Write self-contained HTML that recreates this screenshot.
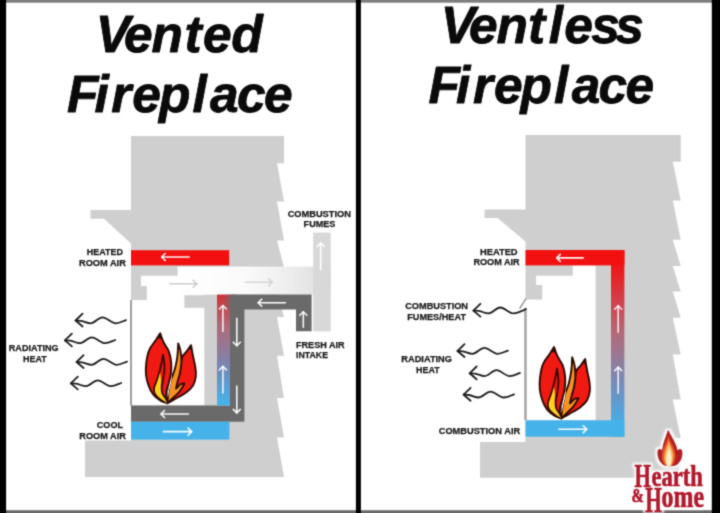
<!DOCTYPE html>
<html lang="en"><head><meta charset="utf-8"><title>Vented vs Ventless Fireplace</title>
<style>
html,body{margin:0;padding:0;background:#fff;}
body{width:720px;height:513px;overflow:hidden;}
svg{display:block;font-family:"Liberation Sans",Arial,sans-serif;font-weight:bold;}
.t{font-style:italic;fill:#0a0a0a;stroke:#0a0a0a;stroke-width:0.8px;stroke-linejoin:round;}
.l{fill:#1a1a1a;stroke:#1a1a1a;stroke-width:0.25px;}
.logo{font-family:"Liberation Serif","DejaVu Serif",serif;font-weight:bold;fill:#b2182c;}
</style></head><body>
<svg width="720" height="513" viewBox="0 0 720 513">
<defs>
<linearGradient id="rb" x1="0" y1="0" x2="0" y2="1">
<stop offset="0" stop-color="#cf3039"/><stop offset="0.1" stop-color="#c4464f"/><stop offset="0.28" stop-color="#ad6a7a"/><stop offset="0.5" stop-color="#917a9a"/><stop offset="0.68" stop-color="#7289b6"/><stop offset="0.85" stop-color="#57a2d8"/><stop offset="1" stop-color="#45b3ea"/>
</linearGradient>
<linearGradient id="rb2" x1="0" y1="0" x2="0" y2="1">
<stop offset="0" stop-color="#f21010"/><stop offset="0.09" stop-color="#ee1818"/><stop offset="0.27" stop-color="#d2404a"/><stop offset="0.45" stop-color="#b26a7a"/><stop offset="0.6" stop-color="#917c9c"/><stop offset="0.74" stop-color="#7090c0"/><stop offset="0.88" stop-color="#52a6de"/><stop offset="1" stop-color="#45b3ea"/>
</linearGradient>
<linearGradient id="ex" x1="0" y1="0" x2="1" y2="0">
<stop offset="0" stop-color="#ffffff"/><stop offset="0.45" stop-color="#fafafa"/><stop offset="0.75" stop-color="#ececec"/><stop offset="1" stop-color="#dadada"/>
</linearGradient>
<linearGradient id="rd" x1="0" y1="0" x2="1" y2="0">
<stop offset="0" stop-color="#6a6a6a" stop-opacity="0"/><stop offset="1" stop-color="#6a6a6a" stop-opacity="1"/>
</linearGradient>
<filter id="soft" filterUnits="userSpaceOnUse" x="0" y="0" width="720" height="513" color-interpolation-filters="sRGB"><feConvolveMatrix order="3" kernelMatrix="1 4 1 4 16 4 1 4 1" divisor="36" edgeMode="duplicate" preserveAlpha="true"/></filter>
<filter id="halo" filterUnits="userSpaceOnUse" x="620" y="420" width="100" height="93" color-interpolation-filters="sRGB"><feMorphology in="SourceAlpha" operator="dilate" radius="2.2" result="d"/><feGaussianBlur in="d" stdDeviation="0.9" result="b"/><feFlood flood-color="#fff" result="w"/><feComposite in="w" in2="b" operator="in" result="h"/><feMerge><feMergeNode in="h"/><feMergeNode in="SourceGraphic"/></feMerge></filter>
</defs>
<rect width="720" height="513" fill="#fff"/>
<g filter="url(#soft)">
<rect x="-10" y="-10" width="740" height="533" fill="#fff"/>

<path fill="#cfcfcf" d="M131,136 L284,136 L284,163.3 L277,163.3 L284,201.5 L277,201.5 L284,240.5 L277,240.5 L284,267 L277,267 L284,292.4 L277,292.4 L284,317 L277,317 L284,355.8 L277,355.8 L284,398 L277,398 L284,437.4 L277,437.4 L284,477 L85,477 L85,440.4 L131,440.4 L131,243.5 L104,218.8 L90.5,218.8 L90.5,210 L131,210 Z"/>
<path fill="#fff" d="M141,275.8 L204.6,275.8 L204.6,405.5 L131.8,405.5 L131.8,300 L146.8,300 L146.8,286 L141,286 Z"/>
<rect x="177.6" y="266.6" width="153" height="28" fill="url(#ex)"/>
<rect x="313.2" y="232.6" width="17.5" height="98.8" fill="#d8d8d8"/>
<rect x="184.4" y="295.2" width="32.6" height="12.6" fill="#cfcfcf"/>
<rect x="204.6" y="295.2" width="12.4" height="110.3" fill="#cfcfcf"/>
<rect x="130.2" y="300" width="1.6" height="105.5" fill="#8c8c8c"/>
<rect x="131" y="250.2" width="98.2" height="15.2" fill="#f21010"/>
<path fill="#6a6a6a" d="M230,294.6 L311.6,294.6 L311.6,331.3 L296,331.3 L296,309.6 L244.4,309.6 L244.4,421.8 L131,421.8 L131,405.5 L230,405.5 Z"/>
<rect x="217" y="294.6" width="13" height="111" fill="url(#rb)"/>
<rect x="222" y="294.6" width="14" height="15" fill="url(#rd)"/>
<rect x="131" y="421.8" width="98.4" height="17.8" fill="#45b3ea"/>
<g fill="none" stroke="#fff" stroke-opacity="0.95" stroke-width="1.6" stroke-linecap="round" stroke-linejoin="round"><path d="M189.2,257.0 L161.7,257.0"/><path d="M165.2,253.5 L161.7,257.0 L165.2,260.5"/></g>
<g fill="none" stroke="#c8c8c8" stroke-opacity="0.9" stroke-width="1.6" stroke-linecap="round" stroke-linejoin="round"><path d="M170.0,283.7 L196.7,283.7"/><path d="M193.2,287.2 L196.7,283.7 L193.2,280.2"/></g>
<g fill="none" stroke="#d2d2d2" stroke-opacity="0.9" stroke-width="1.6" stroke-linecap="round" stroke-linejoin="round"><path d="M245.5,282.2 L272.2,282.2"/><path d="M268.7,285.7 L272.2,282.2 L268.7,278.7"/></g>
<g fill="none" stroke="#fff" stroke-opacity="1.0" stroke-width="1.6" stroke-linecap="round" stroke-linejoin="round"><path d="M320.7,270.0 L320.7,243.0"/><path d="M324.2,246.5 L320.7,243.0 L317.2,246.5"/></g>
<g fill="none" stroke="#fff" stroke-opacity="1.0" stroke-width="1.6" stroke-linecap="round" stroke-linejoin="round"><path d="M285.5,302.7 L258.2,302.7"/><path d="M261.7,299.2 L258.2,302.7 L261.7,306.2"/></g>
<g fill="none" stroke="#fff" stroke-opacity="0.95" stroke-width="1.6" stroke-linecap="round" stroke-linejoin="round"><path d="M303.3,327.3 L303.3,311.8"/><path d="M306.8,315.3 L303.3,311.8 L299.8,315.3"/></g>
<g fill="none" stroke="#fff" stroke-opacity="0.9" stroke-width="1.6" stroke-linecap="round" stroke-linejoin="round"><path d="M222.9,331.4 L222.9,305.5"/><path d="M226.4,309.0 L222.9,305.5 L219.4,309.0"/></g>
<g fill="none" stroke="#fff" stroke-opacity="0.9" stroke-width="1.6" stroke-linecap="round" stroke-linejoin="round"><path d="M222.9,393.0 L222.9,366.4"/><path d="M226.4,369.9 L222.9,366.4 L219.4,369.9"/></g>
<g fill="none" stroke="#fff" stroke-opacity="0.95" stroke-width="1.6" stroke-linecap="round" stroke-linejoin="round"><path d="M236.8,318.3 L236.8,345.7"/><path d="M233.3,342.2 L236.8,345.7 L240.3,342.2"/></g>
<g fill="none" stroke="#fff" stroke-opacity="0.95" stroke-width="1.6" stroke-linecap="round" stroke-linejoin="round"><path d="M236.8,386.0 L236.8,412.9"/><path d="M233.3,409.4 L236.8,412.9 L240.3,409.4"/></g>
<g fill="none" stroke="#fff" stroke-opacity="0.95" stroke-width="1.6" stroke-linecap="round" stroke-linejoin="round"><path d="M188.4,414.0 L161.0,414.0"/><path d="M164.5,410.5 L161.0,414.0 L164.5,417.5"/></g>
<g fill="none" stroke="#fff" stroke-opacity="0.95" stroke-width="1.6" stroke-linecap="round" stroke-linejoin="round"><path d="M163.3,431.6 L191.6,431.6"/><path d="M188.1,435.1 L191.6,431.6 L188.1,428.1"/></g>
<g transform="translate(145.5,333) scale(1,1)" stroke="#2e0a04" stroke-width="1.9" stroke-linejoin="round" stroke-linecap="round">
<path fill="#f01a12" d="M45.6,12.1 C44.9,13.1 42.7,16.3 41.2,18.4 C39.7,20.5 37.7,21.0 36.5,24.6 C35.3,28.2 35.4,34.9 34.0,40.0 C32.6,45.1 30.0,50.0 28.0,55.0 C26.0,60.0 22.8,67.7 21.8,70.2 C22.4,69.9 23.8,69.3 25.7,68.2 C27.6,67.1 30.9,65.3 33.5,63.8 C36.1,62.3 38.9,60.9 41.2,59.0 C43.5,57.1 46.0,55.2 47.5,52.6 C49.0,50.0 49.9,46.4 50.3,43.3 C50.7,40.2 50.3,37.4 49.8,34.0 C49.3,30.6 48.2,26.6 47.5,23.0 C46.8,19.4 45.9,13.9 45.6,12.1 Z"/>
<path fill="#f01a12" d="M14.7,0.3 C13.9,1.5 11.9,4.8 10.1,7.5 C8.3,10.2 5.3,13.2 3.8,16.8 C2.2,20.4 1.4,25.1 0.8,29.3 C0.3,33.5 0.1,37.8 0.5,41.7 C0.9,45.6 1.9,49.3 3.1,52.6 C4.3,55.9 5.8,59.0 7.7,61.5 C9.6,64.0 12.3,66.0 14.7,67.4 C17.1,68.9 20.6,69.7 21.8,70.2 C21.6,69.1 20.5,65.7 20.4,63.5 C20.3,61.4 20.7,59.6 21.2,57.3 C21.7,55.0 22.8,52.4 23.5,49.5 C24.2,46.6 25.0,43.6 25.4,40.2 C25.8,36.8 26.0,32.9 25.7,29.3 C25.4,25.7 24.6,21.8 23.3,18.4 C22.0,15.0 19.3,12.0 17.9,9.0 C16.5,6.0 15.2,1.8 14.7,0.3 Z"/>
<path fill="#f7941e" d="M32.7,10.4 C32.6,12.5 32.4,18.8 31.9,23.0 C31.4,27.2 30.5,31.6 29.5,35.5 C28.5,39.4 26.7,42.8 25.7,46.4 C24.7,50.0 23.9,54.2 23.3,57.3 C22.7,60.4 22.6,62.9 22.3,65.0 C22.1,67.2 21.9,69.3 21.8,70.2 C22.8,69.3 25.5,67.0 27.5,65.0 C29.5,63.0 32.1,60.9 34.0,58.5 C35.9,56.1 38.2,51.8 39.0,50.5 C38.4,50.6 36.9,50.2 35.5,51.0 C34.1,51.8 31.3,54.8 30.5,55.5 C30.8,54.2 31.6,50.5 32.2,48.0 C32.9,45.5 33.8,43.3 34.4,40.2 C35.0,37.1 35.8,32.9 35.9,29.3 C36.0,25.7 35.6,21.5 35.1,18.4 C34.6,15.2 33.1,11.7 32.7,10.4 Z"/>
<path fill="#e81a12" stroke-width="1.7" d="M17.6,21.5 C17.2,23.8 15.9,30.9 14.9,35.0 C13.9,39.1 12.7,43.1 11.6,46.4 C10.5,49.7 9.0,52.6 8.6,55.0 C8.2,57.4 8.3,58.8 9.3,60.6 C10.3,62.4 12.6,64.4 14.7,66.0 C16.8,67.6 20.6,69.5 21.8,70.2 C21.4,69.4 20.4,67.1 19.6,65.5 C18.8,63.9 17.4,62.3 16.9,60.4 C16.3,58.5 16.1,56.8 16.3,54.2 C16.5,51.6 17.4,48.2 17.9,44.8 C18.4,41.4 19.2,37.9 19.1,34.0 C19.1,30.1 17.9,23.6 17.6,21.5 Z"/>
<path fill="#fbd31d" stroke="none" d="M14.6,39.5 C14.2,40.8 13.2,44.4 12.4,47.0 C11.6,49.6 10.0,52.8 9.6,55.0 C9.2,57.2 9.3,58.5 10.2,60.3 C11.1,62.1 13.1,63.9 15.0,65.6 C16.9,67.2 20.7,69.4 21.8,70.2 C21.3,69.4 20.0,66.9 19.0,65.3 C18.0,63.7 16.5,62.2 15.9,60.4 C15.3,58.5 15.2,56.4 15.2,54.2 C15.1,52.0 15.7,49.5 15.6,47.0 C15.5,44.5 14.8,40.8 14.6,39.5 Z"/>
<path fill="#fff" stroke="none" d="M26.3,42 C25,47 23.2,53 22.5,59 C22.2,61.5 22.2,63.5 22.5,65 C23,60 24.3,55 25.5,50 C26.2,46.5 26.5,44 26.3,42 Z"/>
<path fill="#2e0a04" stroke="none" d="M14.7,0.3 L12.2,5 L17,6.5 Z M32.7,10.4 L32.2,16 L34.6,16 Z M45.6,12.1 L43.2,16 L46.6,17 Z"/>
</g>
<g transform="translate(75,320.5)" fill="none" stroke="#1e1e1e" stroke-width="1.8" stroke-linecap="round" stroke-linejoin="round"><path d="M7.6,-6.8 L0.6,0 L7.6,6"/><path d="M0.6,0 L6,0.3 C10,1 12,2.8 15.4,2.8 C20,2.8 23,-3.1 27.5,-3.1 C32,-3.1 36,2.8 40.6,2.8 C45,2.8 48,0.5 51,-0.4"/></g>
<g transform="translate(64.3,340.4)" fill="none" stroke="#1e1e1e" stroke-width="1.8" stroke-linecap="round" stroke-linejoin="round"><path d="M7.6,-6.8 L0.6,0 L7.6,6"/><path d="M0.6,0 L6,0.3 C10,1 12,2.8 15.4,2.8 C20,2.8 23,-3.1 27.5,-3.1 C32,-3.1 36,2.8 40.6,2.8 C45,2.8 48,0.5 51,-0.4"/></g>
<g transform="translate(76,362)" fill="none" stroke="#1e1e1e" stroke-width="1.8" stroke-linecap="round" stroke-linejoin="round"><path d="M7.6,-6.8 L0.6,0 L7.6,6"/><path d="M0.6,0 L6,0.3 C10,1 12,2.8 15.4,2.8 C20,2.8 23,-3.1 27.5,-3.1 C32,-3.1 36,2.8 40.6,2.8 C45,2.8 48,0.5 51,-0.4"/></g>
<g transform="translate(70.2,383.4)" fill="none" stroke="#1e1e1e" stroke-width="1.8" stroke-linecap="round" stroke-linejoin="round"><path d="M7.6,-6.8 L0.6,0 L7.6,6"/><path d="M0.6,0 L6,0.3 C10,1 12,2.8 15.4,2.8 C20,2.8 23,-3.1 27.5,-3.1 C32,-3.1 36,2.8 40.6,2.8 C45,2.8 48,0.5 51,-0.4"/></g>
<g class="l">
<text x="86.7" y="255.3" font-size="9.4" text-anchor="start" textLength="36.2" lengthAdjust="spacingAndGlyphs">HEATED</text>
<text x="79" y="266" font-size="9.4" text-anchor="start" textLength="46.8" lengthAdjust="spacingAndGlyphs">ROOM AIR</text>
<text x="8.8" y="351.3" font-size="9.4" text-anchor="start" textLength="49.8" lengthAdjust="spacingAndGlyphs">RADIATING</text>
<text x="23" y="362.4" font-size="9.4" text-anchor="start" textLength="23.8" lengthAdjust="spacingAndGlyphs">HEAT</text>
<text x="96.8" y="427.6" font-size="9.4" text-anchor="start" textLength="26.2" lengthAdjust="spacingAndGlyphs">COOL</text>
<text x="79.3" y="438.5" font-size="9.4" text-anchor="start" textLength="46.6" lengthAdjust="spacingAndGlyphs">ROOM AIR</text>
<text x="287.7" y="216.8" font-size="9.4" text-anchor="start" textLength="63.2" lengthAdjust="spacingAndGlyphs">COMBUSTION</text>
<text x="303.6" y="227.1" font-size="9.4" text-anchor="start" textLength="31.7" lengthAdjust="spacingAndGlyphs">FUMES</text>
<text x="296" y="347.5" font-size="9.4" text-anchor="start" textLength="48.6" lengthAdjust="spacingAndGlyphs">FRESH AIR</text>
<text x="296" y="357.8" font-size="9.4" text-anchor="start" textLength="32" lengthAdjust="spacingAndGlyphs">INTAKE</text>
</g>
<path fill="#cfcfcf" d="M525.5,135 L680.7,135 L680.7,161.7 L672.8,161.7 L680.7,200.5 L672.8,200.5 L680.7,239.7 L672.8,239.7 L680.7,266 L672.8,266 L680.7,291.4 L672.8,291.4 L680.7,317.7 L672.8,317.7 L680.7,354.4 L672.8,354.4 L680.7,399.6 L672.8,399.6 L680.7,438 L672.8,438 L680.7,477.8 L480,477.8 L480,442 L525.5,442 L525.5,241.5 L497.5,218 L484.5,218 L484.5,209.5 L525.5,209.5 Z"/>
<path fill="#fff" d="M536,275.7 L572.7,275.7 L572.7,265.4 L595.6,265.4 L595.6,420.3 L526.6,420.3 L526.6,299.4 L542.2,299.4 L542.2,285 L536,285 Z"/>
<rect x="524.2" y="299.4" width="2.5" height="9" fill="#fff"/>
<rect x="524.2" y="308.3" width="2.4" height="112" fill="#a6a6a6"/>
<path d="M519.6,308.6 L526,298.6" stroke="#888" stroke-width="1.2" fill="none"/>
<rect x="611" y="250" width="13.4" height="187" fill="url(#rb2)"/>
<rect x="525.5" y="250" width="98.9" height="15.4" fill="#f21010"/>
<rect x="525.5" y="420.3" width="98.9" height="16.4" fill="#45b3ea"/>
<g fill="none" stroke="#fff" stroke-opacity="0.95" stroke-width="1.6" stroke-linecap="round" stroke-linejoin="round"><path d="M583.3,257.9 L556.7,257.9"/><path d="M560.2,254.4 L556.7,257.9 L560.2,261.4"/></g>
<g fill="none" stroke="#fff" stroke-opacity="0.85" stroke-width="1.6" stroke-linecap="round" stroke-linejoin="round"><path d="M618.2,332.3 L618.2,305.7"/><path d="M621.7,309.2 L618.2,305.7 L614.7,309.2"/></g>
<g fill="none" stroke="#fff" stroke-opacity="0.85" stroke-width="1.6" stroke-linecap="round" stroke-linejoin="round"><path d="M618.2,393.3 L618.2,367.1"/><path d="M621.7,370.6 L618.2,367.1 L614.7,370.6"/></g>
<g fill="none" stroke="#fff" stroke-opacity="0.95" stroke-width="1.6" stroke-linecap="round" stroke-linejoin="round"><path d="M558.9,429.3 L586.7,429.3"/><path d="M583.2,432.8 L586.7,429.3 L583.2,425.8"/></g>
<g transform="translate(539.3,346.7) scale(1.005,1.02)" stroke="#2e0a04" stroke-width="1.9" stroke-linejoin="round" stroke-linecap="round">
<path fill="#f01a12" d="M45.6,12.1 C44.9,13.1 42.7,16.3 41.2,18.4 C39.7,20.5 37.7,21.0 36.5,24.6 C35.3,28.2 35.4,34.9 34.0,40.0 C32.6,45.1 30.0,50.0 28.0,55.0 C26.0,60.0 22.8,67.7 21.8,70.2 C22.4,69.9 23.8,69.3 25.7,68.2 C27.6,67.1 30.9,65.3 33.5,63.8 C36.1,62.3 38.9,60.9 41.2,59.0 C43.5,57.1 46.0,55.2 47.5,52.6 C49.0,50.0 49.9,46.4 50.3,43.3 C50.7,40.2 50.3,37.4 49.8,34.0 C49.3,30.6 48.2,26.6 47.5,23.0 C46.8,19.4 45.9,13.9 45.6,12.1 Z"/>
<path fill="#f01a12" d="M14.7,0.3 C13.9,1.5 11.9,4.8 10.1,7.5 C8.3,10.2 5.3,13.2 3.8,16.8 C2.2,20.4 1.4,25.1 0.8,29.3 C0.3,33.5 0.1,37.8 0.5,41.7 C0.9,45.6 1.9,49.3 3.1,52.6 C4.3,55.9 5.8,59.0 7.7,61.5 C9.6,64.0 12.3,66.0 14.7,67.4 C17.1,68.9 20.6,69.7 21.8,70.2 C21.6,69.1 20.5,65.7 20.4,63.5 C20.3,61.4 20.7,59.6 21.2,57.3 C21.7,55.0 22.8,52.4 23.5,49.5 C24.2,46.6 25.0,43.6 25.4,40.2 C25.8,36.8 26.0,32.9 25.7,29.3 C25.4,25.7 24.6,21.8 23.3,18.4 C22.0,15.0 19.3,12.0 17.9,9.0 C16.5,6.0 15.2,1.8 14.7,0.3 Z"/>
<path fill="#f7941e" d="M32.7,10.4 C32.6,12.5 32.4,18.8 31.9,23.0 C31.4,27.2 30.5,31.6 29.5,35.5 C28.5,39.4 26.7,42.8 25.7,46.4 C24.7,50.0 23.9,54.2 23.3,57.3 C22.7,60.4 22.6,62.9 22.3,65.0 C22.1,67.2 21.9,69.3 21.8,70.2 C22.8,69.3 25.5,67.0 27.5,65.0 C29.5,63.0 32.1,60.9 34.0,58.5 C35.9,56.1 38.2,51.8 39.0,50.5 C38.4,50.6 36.9,50.2 35.5,51.0 C34.1,51.8 31.3,54.8 30.5,55.5 C30.8,54.2 31.6,50.5 32.2,48.0 C32.9,45.5 33.8,43.3 34.4,40.2 C35.0,37.1 35.8,32.9 35.9,29.3 C36.0,25.7 35.6,21.5 35.1,18.4 C34.6,15.2 33.1,11.7 32.7,10.4 Z"/>
<path fill="#e81a12" stroke-width="1.7" d="M17.6,21.5 C17.2,23.8 15.9,30.9 14.9,35.0 C13.9,39.1 12.7,43.1 11.6,46.4 C10.5,49.7 9.0,52.6 8.6,55.0 C8.2,57.4 8.3,58.8 9.3,60.6 C10.3,62.4 12.6,64.4 14.7,66.0 C16.8,67.6 20.6,69.5 21.8,70.2 C21.4,69.4 20.4,67.1 19.6,65.5 C18.8,63.9 17.4,62.3 16.9,60.4 C16.3,58.5 16.1,56.8 16.3,54.2 C16.5,51.6 17.4,48.2 17.9,44.8 C18.4,41.4 19.2,37.9 19.1,34.0 C19.1,30.1 17.9,23.6 17.6,21.5 Z"/>
<path fill="#fbd31d" stroke="none" d="M14.6,39.5 C14.2,40.8 13.2,44.4 12.4,47.0 C11.6,49.6 10.0,52.8 9.6,55.0 C9.2,57.2 9.3,58.5 10.2,60.3 C11.1,62.1 13.1,63.9 15.0,65.6 C16.9,67.2 20.7,69.4 21.8,70.2 C21.3,69.4 20.0,66.9 19.0,65.3 C18.0,63.7 16.5,62.2 15.9,60.4 C15.3,58.5 15.2,56.4 15.2,54.2 C15.1,52.0 15.7,49.5 15.6,47.0 C15.5,44.5 14.8,40.8 14.6,39.5 Z"/>
<path fill="#fff" stroke="none" d="M26.3,42 C25,47 23.2,53 22.5,59 C22.2,61.5 22.2,63.5 22.5,65 C23,60 24.3,55 25.5,50 C26.2,46.5 26.5,44 26.3,42 Z"/>
<path fill="#2e0a04" stroke="none" d="M14.7,0.3 L12.2,5 L17,6.5 Z M32.7,10.4 L32.2,16 L34.6,16 Z M45.6,12.1 L43.2,16 L46.6,17 Z"/>
</g>
<g transform="translate(472.8,310.6)" fill="none" stroke="#1e1e1e" stroke-width="1.8" stroke-linecap="round" stroke-linejoin="round"><path d="M7.6,-6.8 L0.6,0 L7.6,6"/><path d="M0.6,0 L6,0.3 C10,1 12,2.8 15.4,2.8 C20,2.8 23,-3.1 27.5,-3.1 C32,-3.1 36,2.8 40.6,2.8 C45,2.8 48,0.5 51,-0.4 C52,-0.8 52.5,-1.2 53,-1.6"/></g>
<g transform="translate(456.9,351)" fill="none" stroke="#1e1e1e" stroke-width="1.8" stroke-linecap="round" stroke-linejoin="round"><path d="M7.6,-6.8 L0.6,0 L7.6,6"/><path d="M0.6,0 L6,0.3 C10,1 12,2.8 15.4,2.8 C20,2.8 23,-3.1 27.5,-3.1 C32,-3.1 36,2.8 40.6,2.8 C45,2.8 48,0.5 51,-0.4"/></g>
<g transform="translate(469,373.3)" fill="none" stroke="#1e1e1e" stroke-width="1.8" stroke-linecap="round" stroke-linejoin="round"><path d="M7.6,-6.8 L0.6,0 L7.6,6"/><path d="M0.6,0 L6,0.3 C10,1 12,2.8 15.4,2.8 C20,2.8 23,-3.1 27.5,-3.1 C32,-3.1 36,2.8 40.6,2.8 C45,2.8 48,0.5 51,-0.4"/></g>
<g transform="translate(463,394.7)" fill="none" stroke="#1e1e1e" stroke-width="1.8" stroke-linecap="round" stroke-linejoin="round"><path d="M7.6,-6.8 L0.6,0 L7.6,6"/><path d="M0.6,0 L6,0.3 C10,1 12,2.8 15.4,2.8 C20,2.8 23,-3.1 27.5,-3.1 C32,-3.1 36,2.8 40.6,2.8 C45,2.8 48,0.5 51,-0.4"/></g>
<g class="l">
<text x="480" y="255" font-size="9.4" text-anchor="start" textLength="37.6" lengthAdjust="spacingAndGlyphs">HEATED</text>
<text x="473.4" y="265.3" font-size="9.4" text-anchor="start" textLength="46.3" lengthAdjust="spacingAndGlyphs">ROOM AIR</text>
<text x="405.2" y="308.8" font-size="9.4" text-anchor="start" textLength="62.8" lengthAdjust="spacingAndGlyphs">COMBUSTION</text>
<text x="407.2" y="319.9" font-size="9.4" text-anchor="start" textLength="58.8" lengthAdjust="spacingAndGlyphs">FUMES/HEAT</text>
<text x="401.3" y="362.3" font-size="9.4" text-anchor="start" textLength="50.7" lengthAdjust="spacingAndGlyphs">RADIATING</text>
<text x="416" y="373.4" font-size="9.4" text-anchor="start" textLength="23.7" lengthAdjust="spacingAndGlyphs">HEAT</text>
<text x="438.7" y="433.5" font-size="9.4" text-anchor="start" textLength="81.5" lengthAdjust="spacingAndGlyphs">COMBUSTION AIR</text>
</g>
<rect x="-10" y="-10" width="740" height="12.7" fill="#7e7e7e"/>
<rect x="-10" y="510.2" width="740" height="12.8" fill="#6a6a6a"/>
<rect x="-10" y="-10" width="16.1" height="533" fill="#000"/>
<rect x="355.9" y="-10" width="5" height="533" fill="#000"/>
<rect x="711.8" y="-10" width="18.2" height="533" fill="#000"/>
<g filter="url(#halo)">
<path fill="#b21e22" stroke="#b21e22" stroke-width="0.8" stroke-linejoin="round" d="M668.2,430.6 C670.5,436 676,443 677.2,450.8 C678.6,449.6 680,449.2 681.6,450 C682.8,455 681.5,460.5 677.2,464.2 C674.5,466.3 665.5,466.3 662.8,464.2 C658.5,460.5 657.2,455 658.2,450 C659.8,449.2 661.2,449.6 662.4,450.8 C663.2,443 666.5,436 668.2,430.6 Z"/>
<g class="logo" style="stroke:#b2182c;stroke-width:0.7;stroke-linejoin:round"><text><tspan x="634.6" y="486.6" font-size="33.5" textLength="16.4" lengthAdjust="spacingAndGlyphs">H</tspan><tspan x="651.6" y="486.4" font-size="28.5" textLength="51.2" lengthAdjust="spacingAndGlyphs">earth</tspan></text><text><tspan x="631.6" y="501.8" font-size="18.5" textLength="12.4" lengthAdjust="spacingAndGlyphs">&amp;</tspan><tspan x="645.2" y="512.4" font-size="36" textLength="16.6" lengthAdjust="spacingAndGlyphs">H</tspan><tspan x="661.6" y="506.8" font-size="32.5" textLength="42.4" lengthAdjust="spacingAndGlyphs">ome</tspan></text></g>
</g>
<path fill="#e8552a" d="M668.3,436 C669.6,441 674.2,446.5 675.2,452.5 C676.2,458 674.5,462.5 672.5,465.3 L665.5,465.3 C662.5,462.5 661.2,458 662.2,453 C663.2,447 667.2,441.5 668.3,436 Z"/>
<path fill="#fbb25c" d="M668.6,440.5 C669.6,445 672.8,449 673.3,454 C673.8,458.5 672.6,462.5 671.3,465.6 L666.3,465.6 C664.6,462.5 663.8,458.5 664.4,454.5 C665.1,449.5 668,445 668.6,440.5 Z"/>
<path fill="#fff0c4" d="M668.9,446.5 C669.8,450 671.5,453 671.6,457 C671.7,460.5 671,463.5 670.3,466 L667.3,466 C666.3,463.5 665.9,460.5 666.2,457.5 C666.6,453.5 668.4,450 668.9,446.5 Z"/>
<text class="t" font-size="51.5" x="95.8 124.1 151.5 184.5 203.1 231.3" y="51.6">Vented</text>
<text class="t" font-size="51.5" x="67.0 94.5 111.3 132.3 159.0 192.4 210.1 236.9 263.9" y="112.3">Fireplace</text>
<text class="t" font-size="51.5" x="440.8 469.0 496.4 527.9 548.8 564.3 591.2 615.2" y="42.6">Ventless</text>
<text class="t" font-size="51.5" x="428.6 456.1 472.9 493.9 520.6 554.0 571.7 598.5 625.5" y="103.3">Fireplace</text>
</g>
</svg></body></html>
